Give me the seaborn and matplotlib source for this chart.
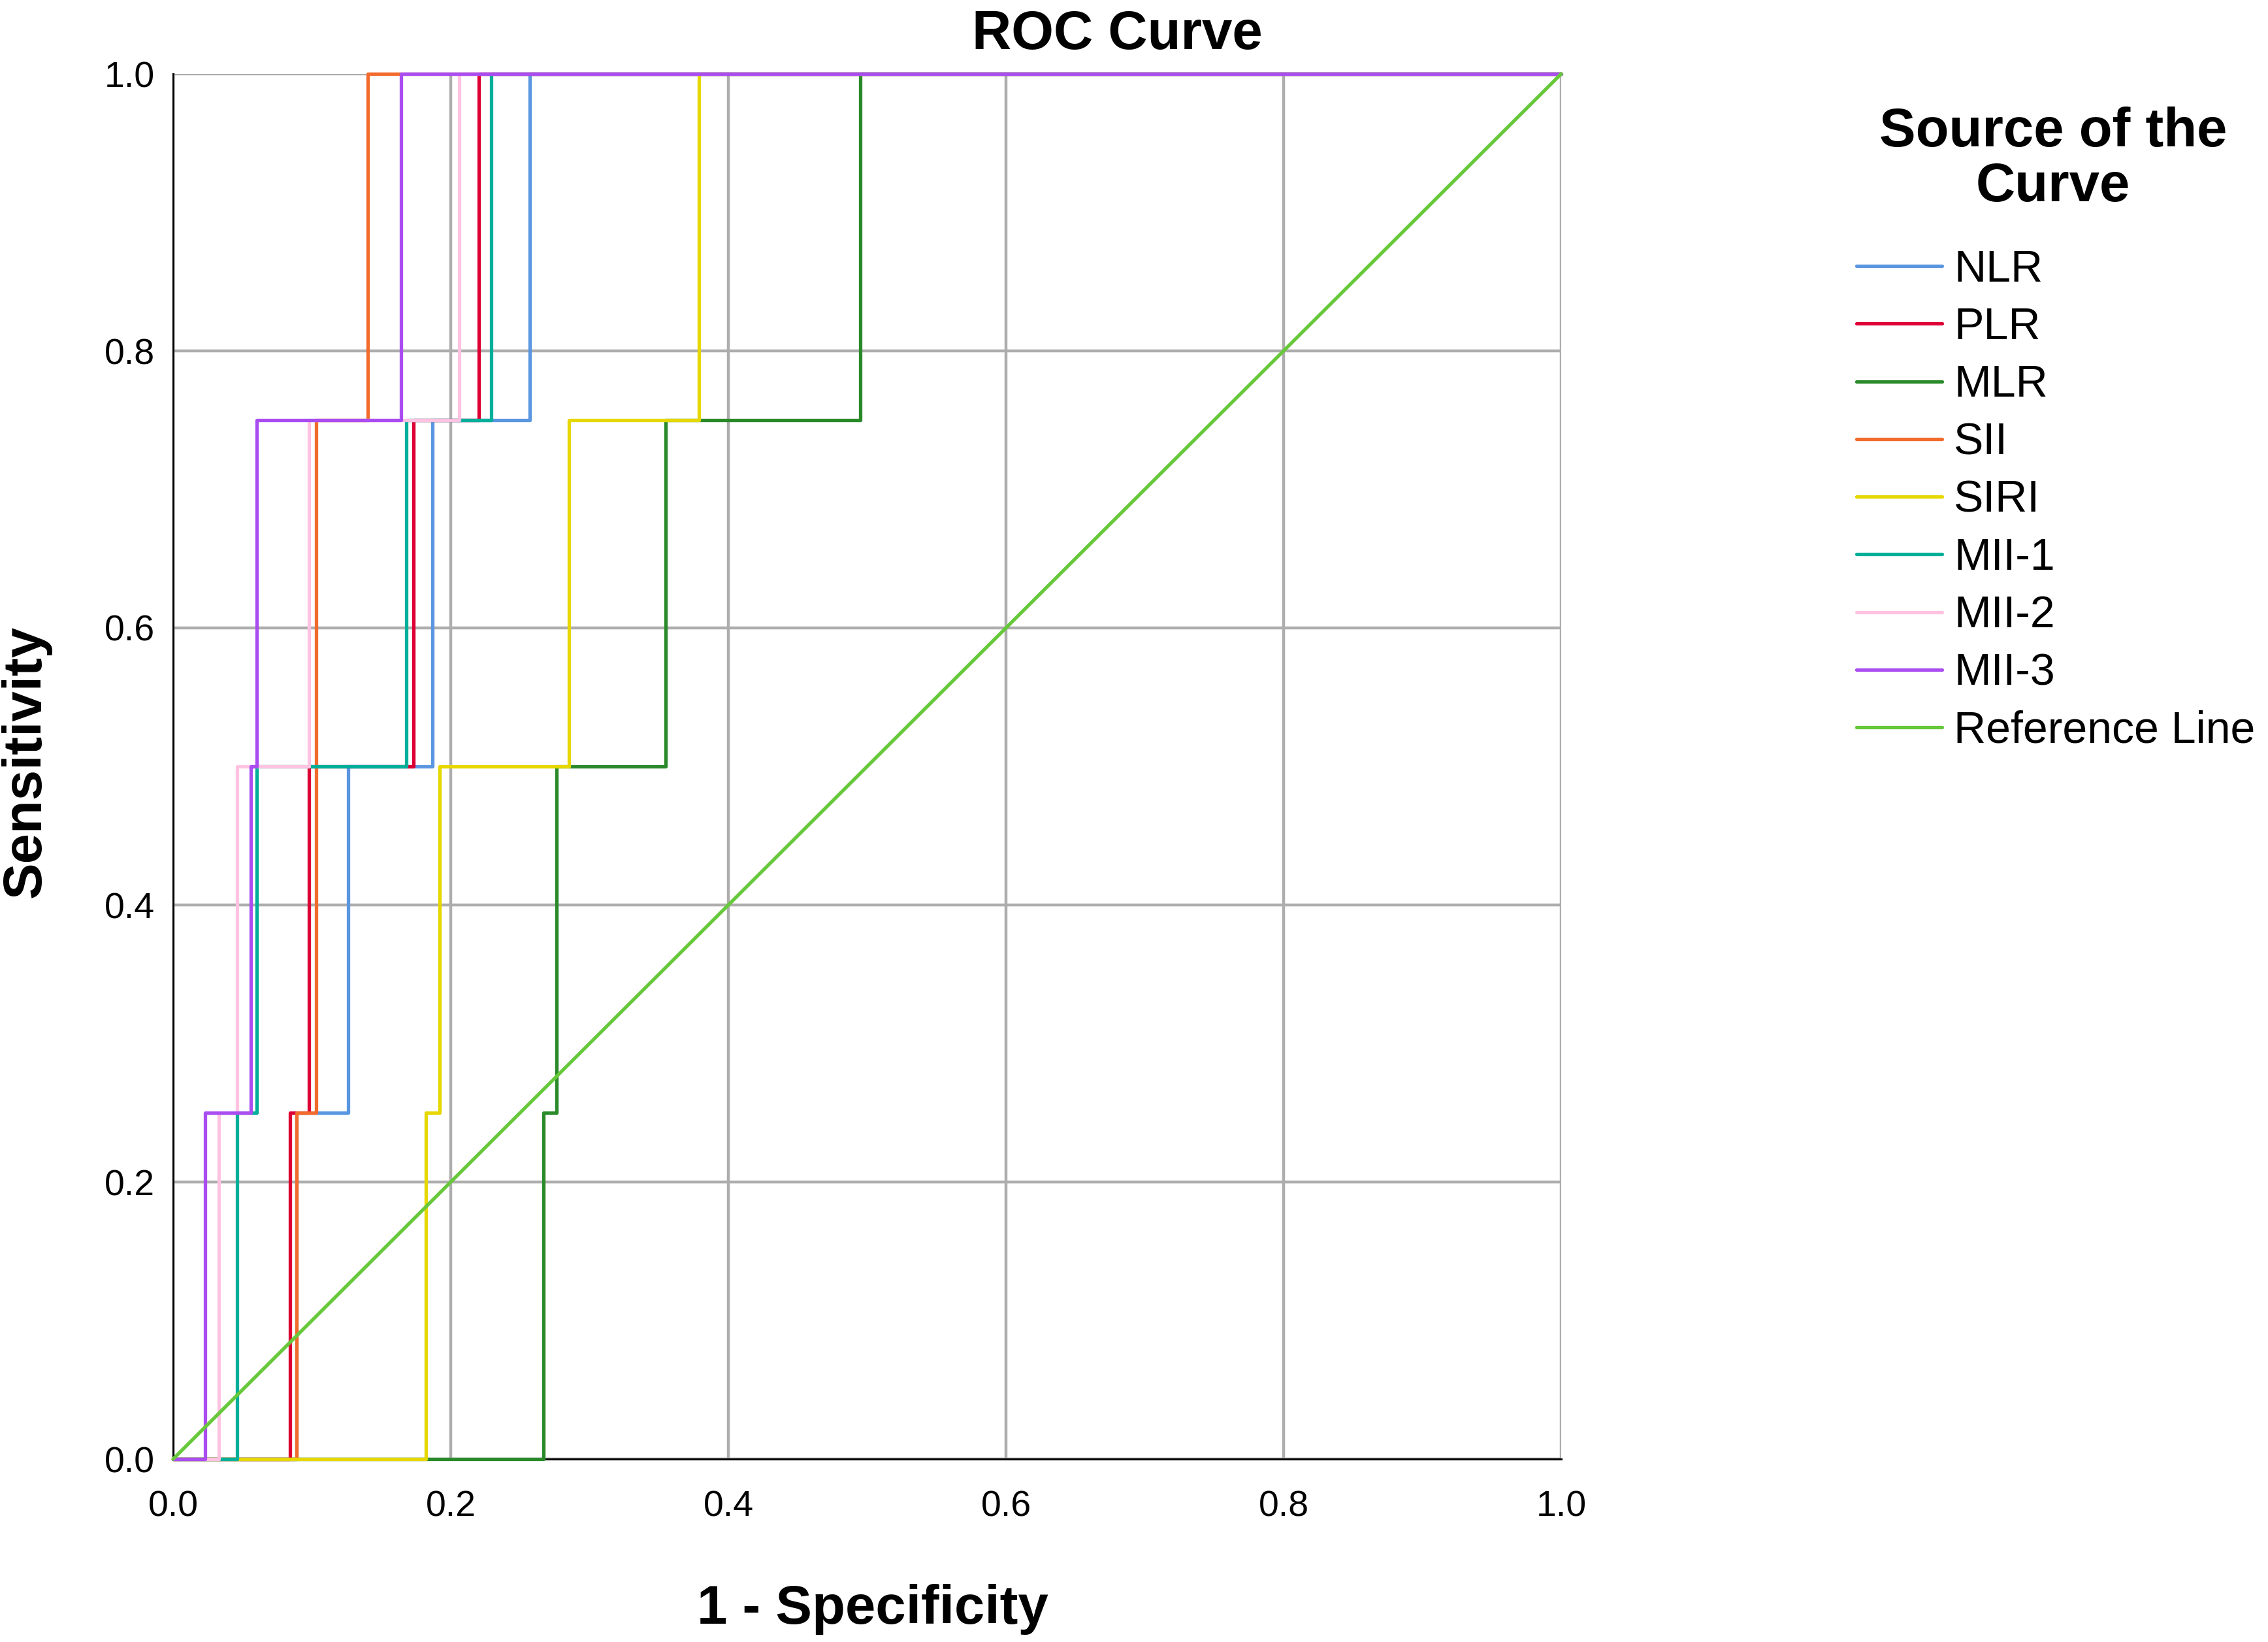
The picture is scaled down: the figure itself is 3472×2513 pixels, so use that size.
import numpy as np
import pandas as pd
import matplotlib
matplotlib.use("Agg")
import matplotlib.pyplot as plt
from matplotlib.lines import Line2D
import seaborn as sns

# ROC step points: x where sensitivity jumps
curves = ["NLR", "PLR", "MLR", "SII", "SIRI", "MII-1", "MII-2", "MII-3"]

nlr_fpr = [0.089, 0.126, 0.187, 0.257]
nlr_tpr = [0.25, 0.50, 0.75, 1.00]
plr_fpr = [0.084, 0.098, 0.173, 0.220]
plr_tpr = [0.25, 0.50, 0.75, 1.00]
mlr_fpr = [0.267, 0.276, 0.355, 0.495]
mlr_tpr = [0.25, 0.50, 0.75, 1.00]
sii_fpr = [0.089, 0.103, 0.140]
sii_tpr = [0.25, 0.75, 1.00]
siri_fpr = [0.182, 0.192, 0.285, 0.379]
siri_tpr = [0.25, 0.50, 0.75, 1.00]
mii1_fpr = [0.046, 0.060, 0.168, 0.229]
mii1_tpr = [0.25, 0.50, 0.75, 1.00]
mii2_fpr = [0.033, 0.046, 0.098, 0.206]
mii2_tpr = [0.25, 0.50, 0.75, 1.00]
mii3_fpr = [0.023, 0.056, 0.060, 0.164]
mii3_tpr = [0.25, 0.50, 0.75, 1.00]

ref_x = [0.0, 1.0]
ref_y = [0.0, 1.0]

colors = ["#5A96E1", "#DC0034", "#2A8A2A", "#F26B2C", "#E6D700",
          "#00AF9A", "#FFC3E1", "#AA4DF0"]
ref_color = "#66C83A"

fprs = [nlr_fpr, plr_fpr, mlr_fpr, sii_fpr, siri_fpr, mii1_fpr, mii2_fpr, mii3_fpr]
tprs = [nlr_tpr, plr_tpr, mlr_tpr, sii_tpr, siri_tpr, mii1_tpr, mii2_tpr, mii3_tpr]

rows = []
for name, fx, ty in zip(curves, fprs, tprs):
    xs = [0.0] + fx + [1.0]
    ys = [0.0] + ty + [1.0]
    for i, (a, b) in enumerate(zip(xs, ys)):
        rows.append({"curve": name, "order": i, "fpr": a, "tpr": b})
df = pd.DataFrame(rows)

sns.set_style("white")
plt.rcParams["font.family"] = ["Liberation Sans", "DejaVu Sans"]
plt.rcParams["text.color"] = "black"
plt.rcParams["axes.labelcolor"] = "black"
plt.rcParams["xtick.color"] = "black"
plt.rcParams["ytick.color"] = "black"

W, H = 3472, 2513
fig = plt.figure(figsize=(W / 200, H / 200), dpi=200)
x0, x1, y0, y1 = 265, 2390, 113, 2233
ax = fig.add_axes([x0 / W, 1 - y1 / H, (x1 - x0) / W, (y1 - y0) / H])

lw = 1.9
sns.lineplot(data=df, x="fpr", y="tpr", hue="curve", hue_order=curves,
             palette=colors, sort=False, estimator=None, drawstyle="steps-post",
             linewidth=lw, legend=False, ax=ax, clip_on=False, zorder=3)
sns.lineplot(x=ref_x, y=ref_y, color=ref_color, linewidth=lw, ax=ax,
             clip_on=False, zorder=3)

ax.set_xlim(0, 1)
ax.set_ylim(0, 1)
ticks = np.arange(0, 1.01, 0.2)
ax.set_xticks(ticks)
ax.set_yticks(ticks)
ax.set_xticklabels([f"{t:.1f}" for t in ticks])
ax.set_yticklabels([f"{t:.1f}" for t in ticks])
ax.tick_params(axis="both", length=0, labelsize=20)
ax.tick_params(axis="x", pad=17)
ax.tick_params(axis="y", pad=10)
ax.grid(True, color="#ADADAD", linewidth=1.6)
ax.set_axisbelow(True)
for side in ["top", "right"]:
    ax.spines[side].set_visible(False)
for side in ["left", "bottom"]:
    ax.spines[side].set_color("black")
    ax.spines[side].set_linewidth(1.1)

ax.set_xlabel("1 - Specificity", fontsize=30, fontweight="bold")
ax.xaxis.set_label_coords((1336 - x0) / (x1 - x0), (y1 - 2485) / (y1 - y0))
ax.xaxis.label.set_va("baseline")
ax.set_ylabel("Sensitivity", fontsize=30, fontweight="bold")
ax.yaxis.set_label_coords((40 - x0) / (x1 - x0), (y1 - 1165) / (y1 - y0))
ax.yaxis.label.set_va("center")

fig.suptitle("ROC Curve", x=1710 / W, y=1 - 75 / H, va="baseline",
             fontsize=30, fontweight="bold")

# legend title
fig.text(3143 / W, 1 - 224 / H, "Source of the", ha="center", va="baseline",
         fontsize=30, fontweight="bold")
fig.text(3143 / W, 1 - 308 / H, "Curve", ha="center", va="baseline",
         fontsize=30, fontweight="bold")

handles = [Line2D([], [], color=c, linewidth=lw) for c in colors]
handles.append(Line2D([], [], color=ref_color, linewidth=lw))
labels = curves + ["Reference Line"]
leg = ax.legend(handles, labels,
                loc="upper left", bbox_to_anchor=(2842 / W, 1 - 381 / H),
                bbox_transform=fig.transFigure, frameon=False,
                fontsize=24.5,
                handlelength=1.93, handletextpad=0.26, labelspacing=0.356,
                borderpad=0, borderaxespad=0)

fig.savefig("out.png", dpi=200, facecolor="white")
